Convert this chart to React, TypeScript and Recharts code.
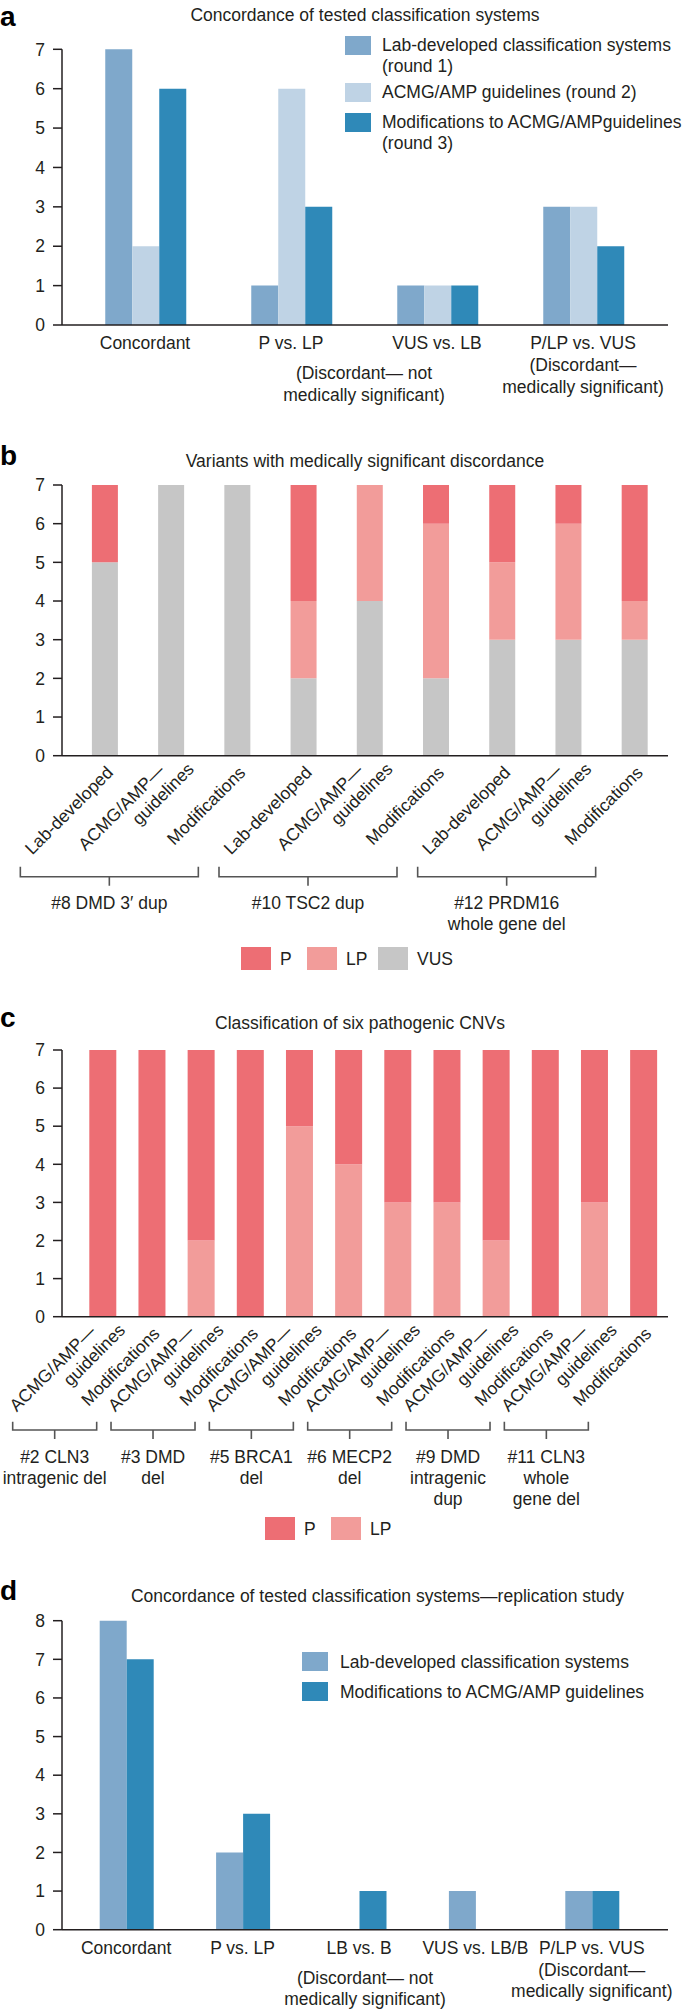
import React from 'react';
import { BarChart, Bar, XAxis, YAxis } from 'recharts';

const FONT = '"Liberation Sans", Arial, Helvetica, sans-serif';
const INK = '#231f20';
const FS = 17.5;
const BRACKET = '#555555';

const LAB = '#7fa8cb';
const ACMG = '#bfd3e5';
const MOD = '#2f89b8';
const PC = '#ed6e74';
const LPC = '#f29c9a';
const VUSC = '#c6c6c6';

// ---------- Panel a ----------
const aCategories = ['Concordant', 'P vs. LP', 'VUS vs. LB', 'P/LP vs. VUS'];
const aLab = [7, 1, 1, 3];
const aAcmg = [2, 6, 1, 3];
const aMod = [6, 3, 1, 2];
const aSeriesNames = [
  'Lab-developed classification systems\n(round 1)',
  'ACMG/AMP guidelines (round 2)',
  'Modifications to ACMG/AMPguidelines\n(round 3)',
];
const aYTicks = [0, 1, 2, 3, 4, 5, 6, 7];

// ---------- Panel b ----------
const bCategories = [
  'Lab-developed', 'ACMG/AMP—|guidelines', 'Modifications',
  'Lab-developed', 'ACMG/AMP—|guidelines', 'Modifications',
  'Lab-developed', 'ACMG/AMP—|guidelines', 'Modifications',
];
const bGroups = ['#8 DMD 3′ dup', '#10 TSC2 dup', '#12 PRDM16|whole gene del'];
const bVUS = [5, 7, 7, 2, 4, 2, 3, 3, 3];
const bLP = [0, 0, 0, 2, 3, 4, 2, 3, 1];
const bP = [2, 0, 0, 3, 0, 1, 2, 1, 3];
const bSeriesNames = ['P', 'LP', 'VUS'];
const bYTicks = [0, 1, 2, 3, 4, 5, 6, 7];

// ---------- Panel c ----------
const cCategories = [
  'ACMG/AMP—|guidelines', 'Modifications',
  'ACMG/AMP—|guidelines', 'Modifications',
  'ACMG/AMP—|guidelines', 'Modifications',
  'ACMG/AMP—|guidelines', 'Modifications',
  'ACMG/AMP—|guidelines', 'Modifications',
  'ACMG/AMP—|guidelines', 'Modifications',
];
const cGroups = [
  '#2 CLN3|intragenic del', '#3 DMD|del', '#5 BRCA1|del',
  '#6 MECP2|del', '#9 DMD|intragenic|dup', '#11 CLN3|whole|gene del',
];
const cLP = [0, 0, 2, 0, 5, 4, 3, 3, 2, 0, 3, 0];
const cP = [7, 7, 5, 7, 2, 3, 4, 4, 5, 7, 4, 7];
const cSeriesNames = ['P', 'LP'];
const cYTicks = [0, 1, 2, 3, 4, 5, 6, 7];

// ---------- Panel d ----------
const dCategories = ['Concordant', 'P vs. LP', 'LB vs. B', 'VUS vs. LB/B', 'P/LP vs. VUS'];
const dLab = [8, 2, 0, 1, 1];
const dMod = [7, 3, 1, 0, 1];
const dSeriesNames = ['Lab-developed classification systems', 'Modifications to ACMG/AMP guidelines'];
const dYTicks = [0, 1, 2, 3, 4, 5, 6, 7, 8];

const noteNotSig = ['(Discordant— not', 'medically significant)'];
const noteSig = ['(Discordant—', 'medically significant)'];

const aData = aCategories.map((name, i) => ({ name, lab: aLab[i], acmg: aAcmg[i], mod: aMod[i] }));
const bData = bCategories.map((name, i) => ({ name, vus: bVUS[i], lp: bLP[i], p: bP[i] }));
const cData = cCategories.map((name, i) => ({ name, lp: cLP[i], p: cP[i] }));
const dData = dCategories.map((name, i) => ({ name, lab: dLab[i], mod: dMod[i] }));

const txt = { fontFamily: FONT, fontSize: FS, fill: INK };
const axisLine = { stroke: INK, strokeWidth: 1.5 };

function Note({ x, y, lines }: { x: number; y: number; lines: string[] }) {
  return (
    <text textAnchor="middle" {...txt}>
      {lines.map((l, k) => (
        <tspan key={k} x={x} y={y + k * 21.6}>{l}</tspan>
      ))}
    </text>
  );
}

function TickA(props: any) {
  const { x, y, payload, index } = props;
  return (
    <g>
      <text x={x} y={y + 24} textAnchor="middle" {...txt}>{payload.value}</text>
      {index === 1 && <Note x={x + 73} y={y + 54} lines={noteNotSig} />}
      {index === 3 && <Note x={x} y={y + 46} lines={noteSig} />}
    </g>
  );
}

function TickD(props: any) {
  const { x, y, payload, index } = props;
  return (
    <g>
      <text x={x} y={y + 24} textAnchor="middle" {...txt}>{payload.value}</text>
      {index === 2 && <Note x={x + 6} y={y + 54} lines={noteNotSig} />}
      {index === 4 && <Note x={x} y={y + 46} lines={noteSig} />}
    </g>
  );
}

type RotCfg = {
  size: number; anchorIndex: number; toCenter: number; shift: number; half: number;
  top: number; mid: number; bottom: number; label: number; lh: number; groups: string[];
};

function makeRotTick(cfg: RotCfg) {
  return function RotTick(props: any) {
    const { x, y, payload, index } = props;
    const lines = String(payload.value).split('|');
    let label;
    if (lines.length === 1) {
      const ax = x + 9;
      const ay = y + 18;
      label = (
        <text x={ax} y={ay} transform={`rotate(-45 ${ax} ${ay})`} textAnchor="end" {...txt}>
          {lines[0]}
        </text>
      );
    } else {
      const ax = x - 6;
      const ay = y + 16;
      label = (
        <text transform={`rotate(-45 ${ax} ${ay})`} textAnchor="end" {...txt}>
          <tspan x={ax} y={ay}>{lines[0]}</tspan>
          <tspan x={ax + 22} y={ay + 20}>{lines[1]}</tspan>
        </text>
      );
    }
    let bracket = null;
    if (index % cfg.size === cfg.anchorIndex) {
      const g = Math.floor(index / cfg.size);
      const cx = x + cfg.toCenter - cfg.shift;
      const glines = (cfg.groups[g] || '').split('|');
      bracket = (
        <g>
          <path
            d={`M${cx - cfg.half},${y + cfg.top} V${y + cfg.mid} H${cx + cfg.half} V${y + cfg.top} M${cx},${y + cfg.mid} V${y + cfg.bottom}`}
            stroke={BRACKET}
            strokeWidth={1.6}
            fill="none"
          />
          <text textAnchor="middle" {...txt}>
            {glines.map((l, k) => (
              <tspan key={k} x={cx} y={y + cfg.label + k * cfg.lh}>{l}</tspan>
            ))}
          </text>
        </g>
      );
    }
    return <g>{label}{bracket}</g>;
  };
}

const TickB = makeRotTick({
  size: 3, anchorIndex: 1, toCenter: 0, shift: 62, half: 89,
  top: 111, mid: 121, bottom: 130, label: 153, lh: 21, groups: bGroups,
});
const TickC = makeRotTick({
  size: 2, anchorIndex: 0, toCenter: 24.6, shift: 72.5, half: 42,
  top: 105, mid: 113.3, bottom: 122.3, label: 146, lh: 21.2, groups: cGroups,
});

function yAxisProps(domainMax: number, ticks: number[]) {
  return {
    type: 'number' as const,
    domain: [0, domainMax],
    ticks,
    interval: 0 as const,
    width: 50,
    tickSize: 9,
    tickMargin: 8,
    axisLine,
    tickLine: axisLine,
    tick: { ...txt },
  };
}

function Overlay() {
  const letter = { fontFamily: FONT, fontSize: 28, fontWeight: 'bold' as const, fill: '#000' };
  const aTops = [36, 83, 113];
  const aColors = [LAB, ACMG, MOD];
  const dTops = [1652, 1682];
  const dColors = [LAB, MOD];
  const bColors = [PC, LPC, VUSC];
  const bX = [241, 307, 378];
  const cColors = [PC, LPC];
  const cX = [265, 331];
  return (
    <svg width={685} height={2016} style={{ position: 'absolute', left: 0, top: 0, pointerEvents: 'none' }}>
      <text x={0} y={25.5} {...letter}>a</text>
      <text x={0} y={465} {...letter}>b</text>
      <text x={0} y={1027} {...letter}>c</text>
      <text x={0} y={1600} {...letter}>d</text>

      <text x={365} y={20.5} textAnchor="middle" {...txt}>Concordance of tested classification systems</text>
      <text x={365} y={467} textAnchor="middle" {...txt}>Variants with medically significant discordance</text>
      <text x={360} y={1029} textAnchor="middle" {...txt}>Classification of six pathogenic CNVs</text>
      <text x={377.5} y={1602} textAnchor="middle" {...txt}>Concordance of tested classification systems—replication study</text>

      {aSeriesNames.map((n, i) => (
        <g key={i}>
          <rect x={345} y={aTops[i]} width={26} height={19} fill={aColors[i]} />
          <text {...txt}>
            {n.split('\n').map((l, k) => (
              <tspan key={k} x={382} y={aTops[i] + 15 + k * 21}>{l}</tspan>
            ))}
          </text>
        </g>
      ))}

      {bSeriesNames.map((n, i) => (
        <g key={i}>
          <rect x={bX[i]} y={947} width={30} height={23} fill={bColors[i]} />
          <text x={bX[i] + 39} y={965} {...txt}>{n}</text>
        </g>
      ))}

      {cSeriesNames.map((n, i) => (
        <g key={i}>
          <rect x={cX[i]} y={1517} width={30} height={23} fill={cColors[i]} />
          <text x={cX[i] + 39} y={1535} {...txt}>{n}</text>
        </g>
      ))}

      {dSeriesNames.map((n, i) => (
        <g key={i}>
          <rect x={302} y={dTops[i]} width={26} height={19} fill={dColors[i]} />
          <text x={340} y={dTops[i] + 15.5} {...txt}>{n}</text>
        </g>
      ))}
    </svg>
  );
}

export default function App() {
  const abs = (top: number) => ({ position: 'absolute' as const, left: 0, top });
  return (
    <div style={{ position: 'absolute', left: 0, top: 0, width: 685, height: 2016, background: '#fff', fontFamily: FONT }}>
      <div style={abs(0)}>
        <BarChart width={685} height={420} data={aData} margin={{ top: 49.3, right: 17, bottom: 0, left: 12 }} barGap={0} barCategoryGap={33.25}>
          <XAxis dataKey="name" interval={0} tickSize={0} tickMargin={0} tickLine={false} axisLine={axisLine} height={95} padding={{ left: 10, right: 12 }} tick={(p: any) => <TickA {...p} />} />
          <YAxis {...yAxisProps(7, aYTicks)} />
          <Bar dataKey="lab" name={aSeriesNames[0]} fill={LAB} isAnimationActive={false} />
          <Bar dataKey="acmg" name={aSeriesNames[1]} fill={ACMG} isAnimationActive={false} />
          <Bar dataKey="mod" name={aSeriesNames[2]} fill={MOD} isAnimationActive={false} />
        </BarChart>
      </div>

      <div style={abs(470)}>
        <BarChart width={685} height={470} data={bData} margin={{ top: 15, right: 17, bottom: 0, left: 12 }} barGap={0} barCategoryGap={19.9}>
          <XAxis dataKey="name" interval={0} tickSize={0} tickMargin={0} tickLine={false} axisLine={axisLine} height={184.3} padding={{ left: 10, right: 0 }} tick={(p: any) => <TickB {...p} />} />
          <YAxis {...yAxisProps(7, bYTicks)} />
          <Bar dataKey="vus" name="VUS" stackId="s" fill={VUSC} isAnimationActive={false} />
          <Bar dataKey="lp" name="LP" stackId="s" fill={LPC} isAnimationActive={false} />
          <Bar dataKey="p" name="P" stackId="s" fill={PC} isAnimationActive={false} />
        </BarChart>
      </div>

      <div style={abs(1035)}>
        <BarChart width={685} height={480} data={cData} margin={{ top: 15, right: 17, bottom: 0, left: 12 }} barGap={0} barCategoryGap={11.3}>
          <XAxis dataKey="name" interval={0} tickSize={0} tickMargin={0} tickLine={false} axisLine={axisLine} height={198.3} padding={{ left: 16, right: 0 }} tick={(p: any) => <TickC {...p} />} />
          <YAxis {...yAxisProps(7, cYTicks)} />
          <Bar dataKey="lp" name="LP" stackId="s" fill={LPC} isAnimationActive={false} />
          <Bar dataKey="p" name="P" stackId="s" fill={PC} isAnimationActive={false} />
        </BarChart>
      </div>

      <div style={abs(1605)}>
        <BarChart width={685} height={411} data={dData} margin={{ top: 15.7, right: 17, bottom: 0, left: 12 }} barGap={0} barCategoryGap={31.7}>
          <XAxis dataKey="name" interval={0} tickSize={0} tickMargin={0} tickLine={false} axisLine={axisLine} height={86.3} padding={{ left: 6, right: 18 }} tick={(p: any) => <TickD {...p} />} />
          <YAxis {...yAxisProps(8, dYTicks)} />
          <Bar dataKey="lab" name={dSeriesNames[0]} fill={LAB} isAnimationActive={false} />
          <Bar dataKey="mod" name={dSeriesNames[1]} fill={MOD} isAnimationActive={false} />
        </BarChart>
      </div>

      <Overlay />
    </div>
  );
}
